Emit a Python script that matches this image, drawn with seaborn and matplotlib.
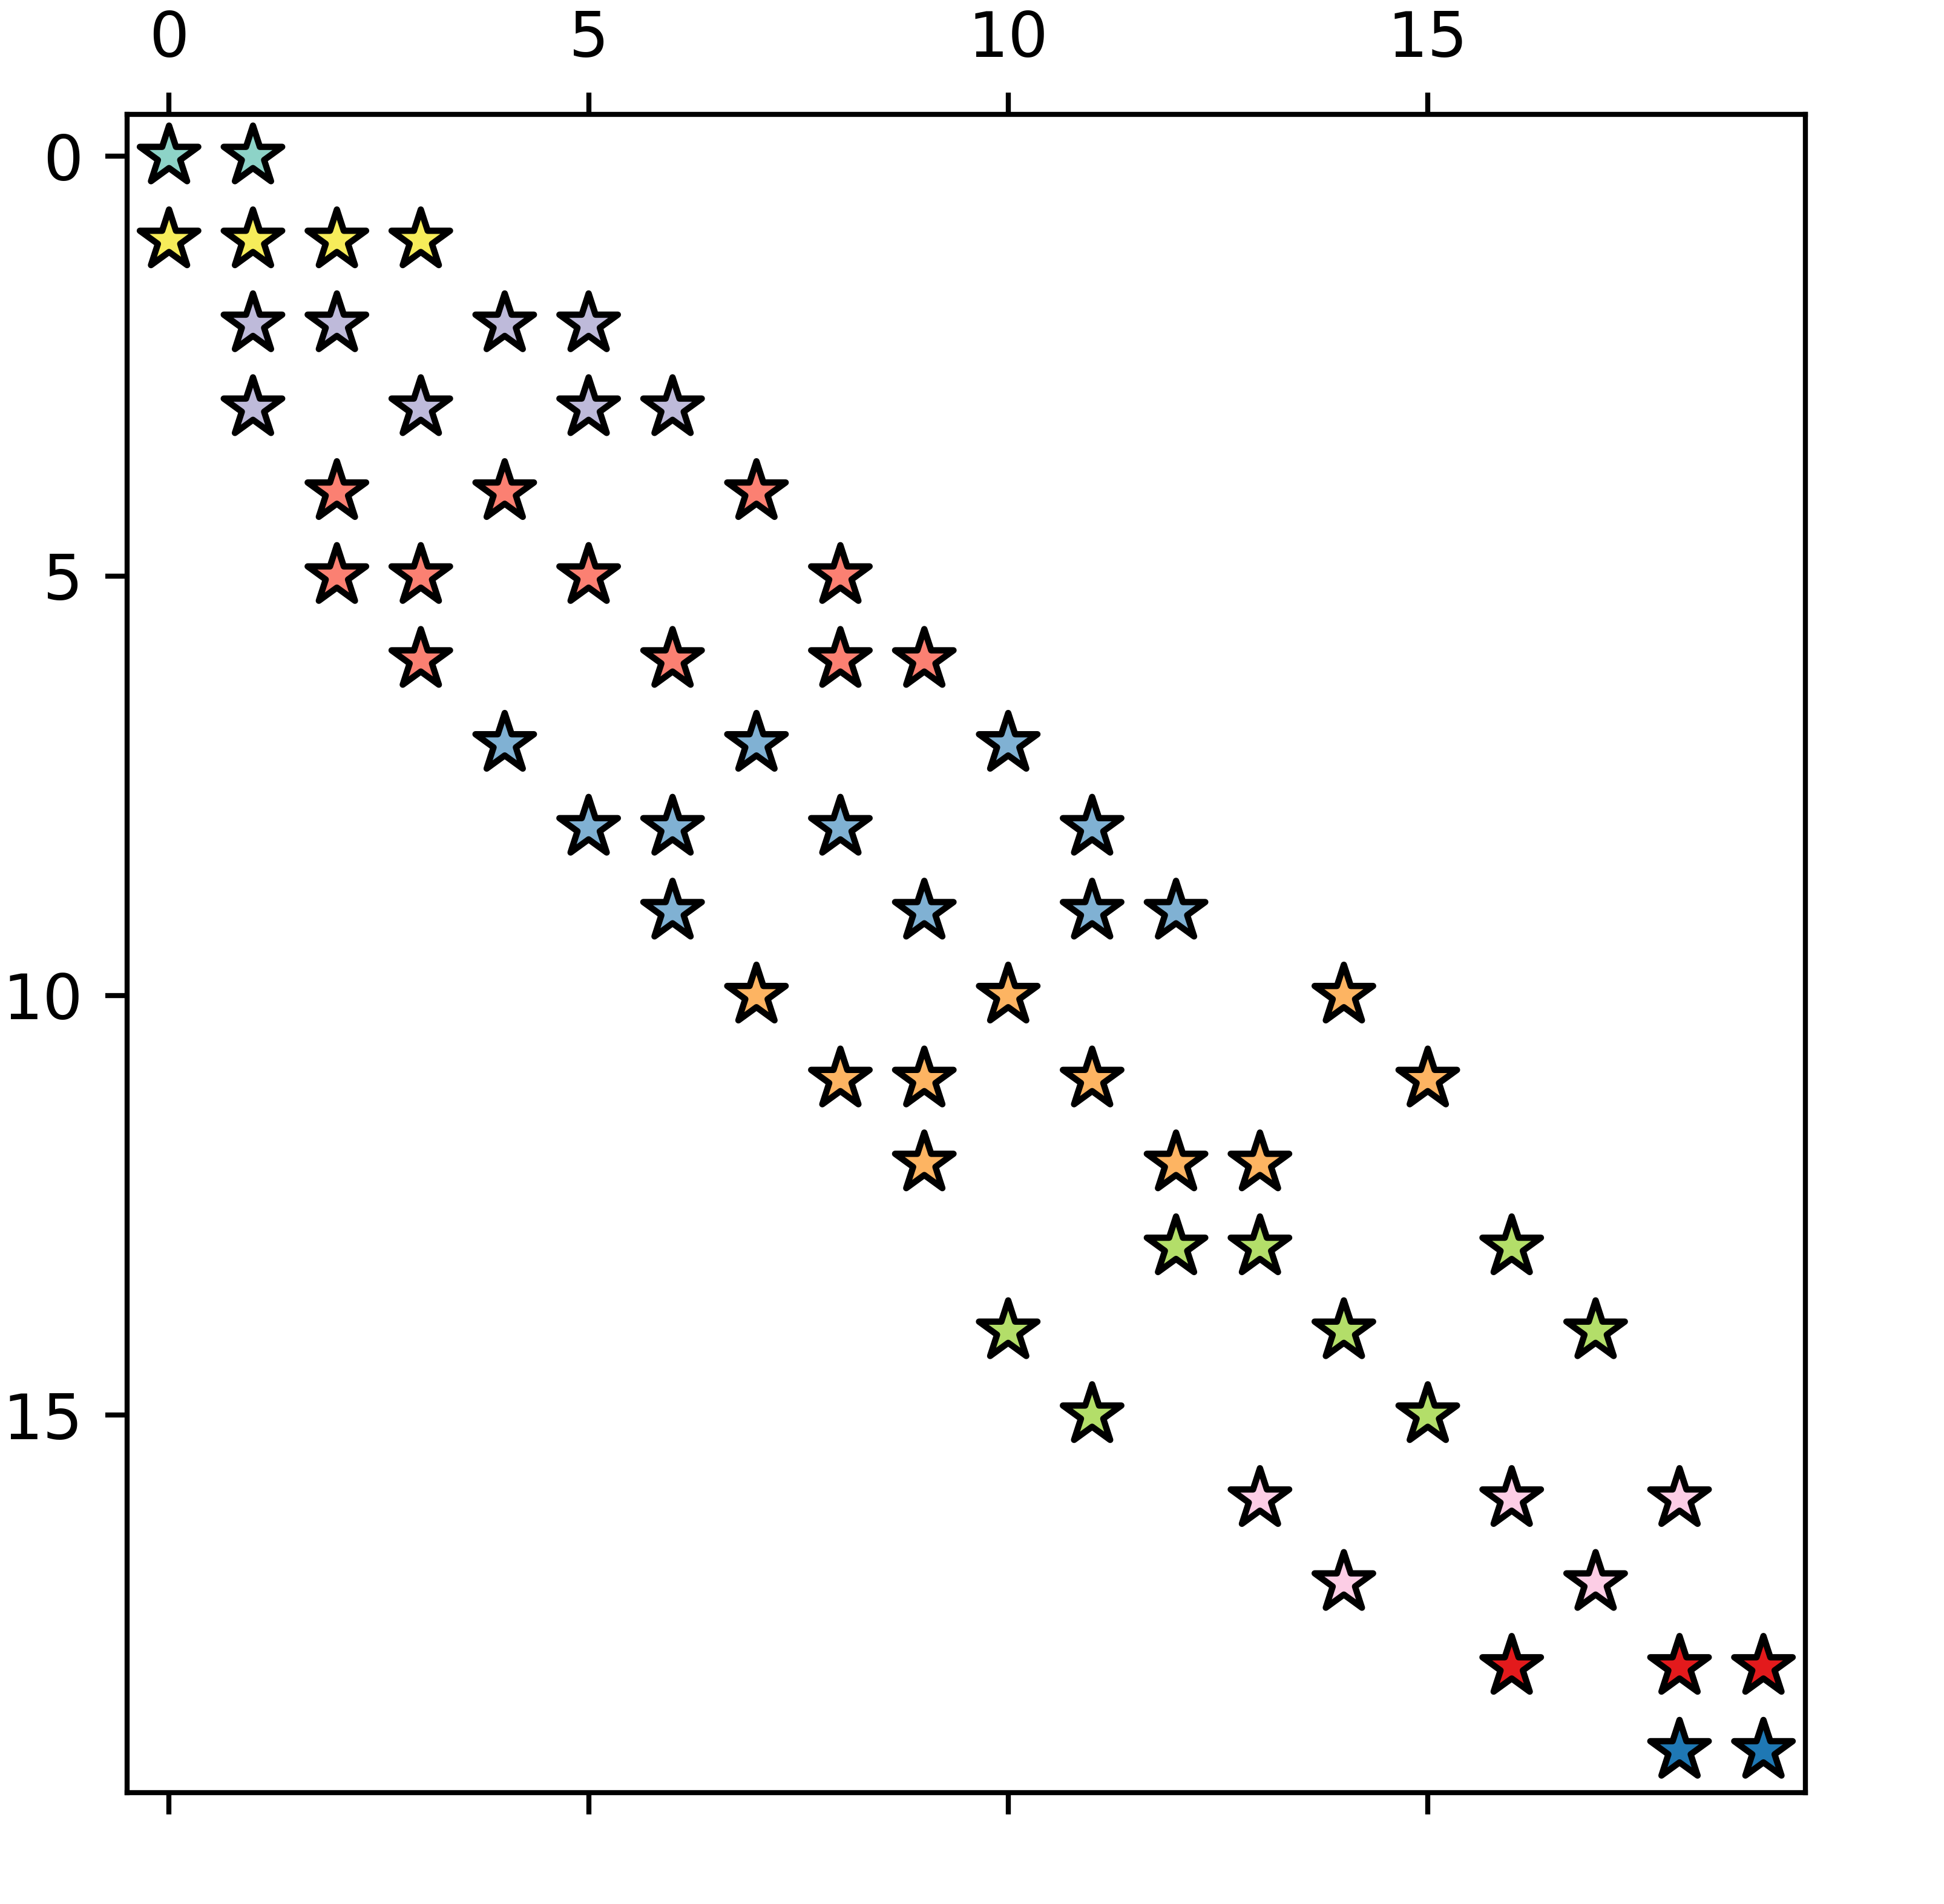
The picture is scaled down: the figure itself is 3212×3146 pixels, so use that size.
import matplotlib
matplotlib.use("Agg")
import matplotlib.pyplot as plt
import pandas as pd
import seaborn as sns

# sparsity pattern: row / column index of every nonzero entry
rows = [0, 0,
        1, 1, 1, 1,
        2, 2, 2, 2,
        3, 3, 3, 3,
        4, 4, 4,
        5, 5, 5, 5,
        6, 6, 6, 6,
        7, 7, 7,
        8, 8, 8, 8,
        9, 9, 9, 9,
        10, 10, 10,
        11, 11, 11, 11,
        12, 12, 12,
        13, 13, 13,
        14, 14, 14,
        15, 15,
        16, 16, 16,
        17, 17,
        18, 18, 18,
        19, 19]
cols = [0, 1,
        0, 1, 2, 3,
        1, 2, 4, 5,
        1, 3, 5, 6,
        2, 4, 7,
        2, 3, 5, 8,
        3, 6, 8, 9,
        4, 7, 10,
        5, 6, 8, 11,
        6, 9, 11, 12,
        7, 10, 14,
        8, 9, 11, 15,
        9, 12, 13,
        12, 13, 16,
        10, 14, 17,
        11, 15,
        13, 16, 18,
        14, 17,
        16, 18, 19,
        18, 19]

# block each row belongs to
row_block = [0, 1, 2, 2, 3, 3, 3, 4, 4, 4, 5, 5, 5, 6, 6, 6, 7, 7, 8, 9]
block_colors = ["#8dd3c7", "#f6ec5a", "#bebada", "#fb8072", "#80b1d3",
                "#fdb462", "#b3de69", "#fccde5", "#e31a1c", "#1f78b4"]

df = pd.DataFrame({"row": rows, "col": cols})
df["block"] = [row_block[r] for r in rows]
pal = {i: c for i, c in enumerate(block_colors)}

fig = plt.figure(figsize=(3212 / 750, 3146 / 750), dpi=750)
ax = fig.add_axes([210 / 3212, 1 - 2962 / 3146, 2773 / 3212, 2773 / 3146])

sns.scatterplot(data=df, x="col", y="row", hue="block", palette=pal,
                marker="*", s=95, edgecolor="black", linewidth=1.0,
                legend=False, ax=ax, zorder=3)

ax.set_xlim(-0.5, 19.5)
ax.set_ylim(19.5, -0.5)
ax.set_xticks([0, 5, 10, 15])
ax.set_yticks([0, 5, 10, 15])
ax.tick_params(axis="x", top=True, labeltop=True, bottom=True, labelbottom=False)
ax.set_xlabel("")
ax.set_ylabel("")

fig.savefig("out.png", dpi=750, facecolor="white")
